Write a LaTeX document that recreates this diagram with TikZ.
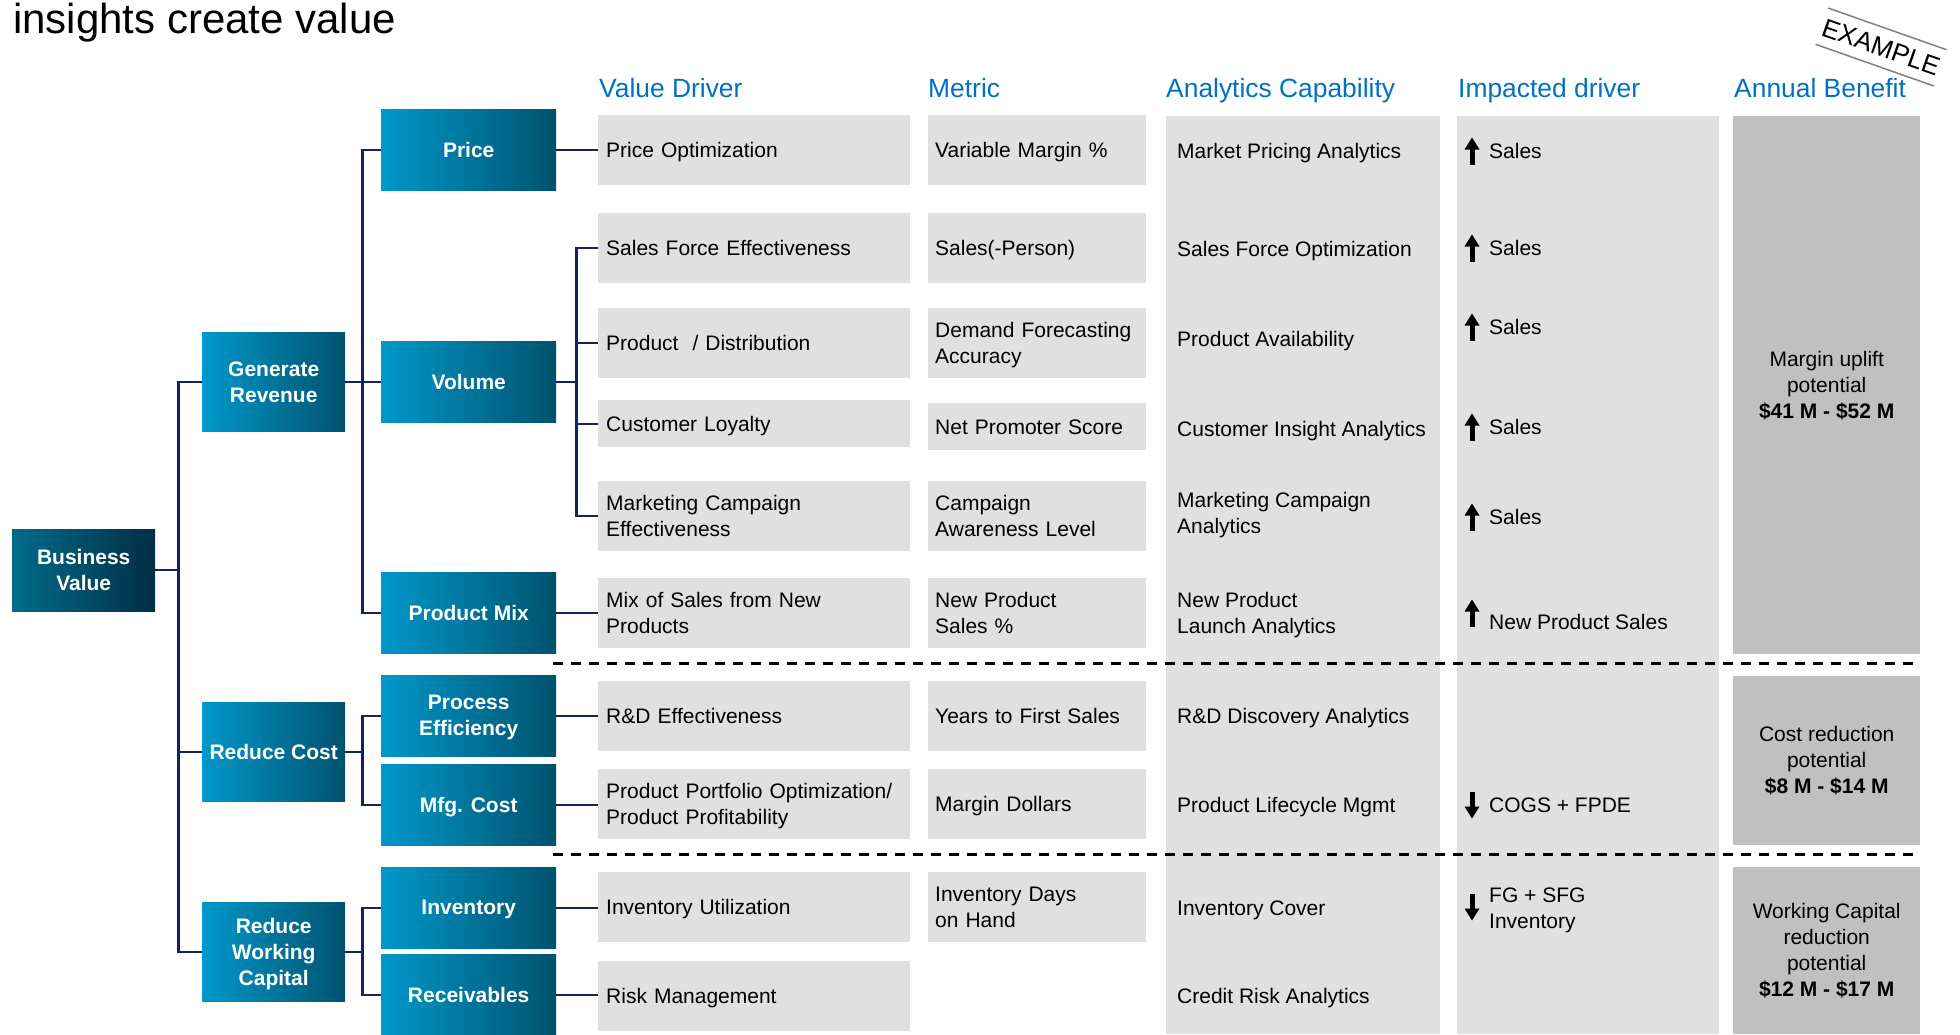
\documentclass[tikz,border=0pt]{standalone}
\usepackage{fontspec}
\setmainfont{Liberation Sans}
\usepackage{tikz}
\usepackage{xcolor}
\usetikzlibrary{arrows}

\definecolor{tealL}{RGB}{0,152,202}
\definecolor{tealD}{RGB}{0,82,110}
\definecolor{rootL}{RGB}{0,108,138}
\definecolor{rootD}{RGB}{0,46,68}
\definecolor{navy}{RGB}{16,36,100}
\definecolor{headblue}{RGB}{0,112,192}
\definecolor{cellgray}{RGB}{224,224,224}
\definecolor{bengray}{RGB}{192,192,192}

\tikzset{
  treebox/.style={anchor=north west, left color=tealL, right color=tealD, text=white,
    font=\fontsize{21}{26}\selectfont\bfseries, align=center, text depth=0pt,
    minimum width=175pt, minimum height=81pt, inner sep=0pt},
  rootbox/.style={treebox, left color=rootL, right color=rootD, minimum width=143pt, minimum height=82pt},
  goalbox/.style={treebox, minimum width=143pt, minimum height=99pt},
  drvbox/.style={anchor=north west, fill=cellgray, text width=296pt, inner xsep=8pt,
    inner ysep=0pt, minimum height=70pt, align=left, text depth=0pt},
  drvtwo/.style={drvbox, text depth=26pt},
  metbox/.style={drvbox, text width=204pt, inner xsep=7pt},
  mettwo/.style={metbox, text depth=26pt},
  benbox/.style={anchor=north west, fill=bengray, minimum width=187pt, align=center, inner sep=0pt},
  colhead/.style={anchor=base west, text=headblue, font=\fontsize{26.4}{30}\selectfont, inner sep=0pt},
  celltxt/.style={anchor=west, align=left, inner sep=0pt, text depth=0pt},
  link/.style={draw=navy, line width=2.2pt},
  sepline/.style={line width=3pt, dash pattern=on 10pt off 8pt},
  stampline/.style={draw=gray, line width=1.5pt},
  uparr/.pic={\fill (-7.5,-1.5) -- (0,-13.5) -- (7.5,-1.5) -- cycle;
              \fill (-2.5,-2) rectangle (2.5,13.5);},
  downarr/.pic={\fill (-7.5,1.5) -- (0,13.5) -- (7.5,1.5) -- cycle;
                \fill (-2.5,2) rectangle (2.5,-13.5);}
}

\begin{document}
\begin{tikzpicture}[x=1pt, y=-1pt, font=\fontsize{21}{26}\selectfont]
\useasboundingbox (0,0) rectangle (1960,1034);

% title and stamp
\node (title) [anchor=base west, inner sep=0pt, font=\fontsize{42}{48}\selectfont] at (13,33) {insights create value};
\node (stamp) [rotate=-19.4, minimum width=125pt, minimum height=38pt, inner sep=0pt,
  font=\fontsize{26}{30}\selectfont] at (1881,47) {EXAMPLE};
\draw[stampline] (stamp.north west) -- (stamp.north east);
\draw[stampline] (stamp.south west) -- (stamp.south east);

% column headers
\node (hdrv) [colhead] at (599,97) {Value Driver};
\node (hmet) [colhead] at (928,97) {Metric};
\node (hana) [colhead] at (1166,97) {Analytics Capability};
\node (himp) [colhead] at (1458,97) {Impacted driver};
\node (hben) [colhead] at (1734,97) {Annual Benefit};

% tall columns
\fill[cellgray] (1166,116) rectangle (1440,1034);
\fill[cellgray] (1457,116) rectangle (1719,1034);

% tree
\node (bv) [rootbox] at (12,529) {Business\\Value};

\node (gr) [goalbox] at (202,332) {Generate\\Revenue};
\node (rc) [goalbox] at (202,702) {Reduce Cost};
\node (rwc) [goalbox] at (202,902) {Reduce\\Working\\Capital};

\node (price) [treebox] at (381,109) {Price};
\node (vol) [treebox] at (381,341) {Volume};
\node (pmix) [treebox] at (381,572) {Product Mix};
\node (proc) [treebox] at (381,675) {Process\\Efficiency};
\node (mfg) [treebox] at (381,764) {Mfg. Cost};
\node (inv) [treebox] at (381,867) {Inventory};
\node (recv) [treebox] at (381,954) {Receivables};

% value drivers
\node (vd1) [drvbox] at (598,115) {Price Optimization};
\node (vd2) [drvbox] at (598,213) {Sales Force Effectiveness};
\node (vd3) [drvbox] at (598,308) {Product~~/ Distribution};
\node (vd4) [drvbox, minimum height=47pt] at (598,400) {Customer Loyalty};
\node (vd5) [drvtwo] at (598,481) {Marketing Campaign\\Effectiveness};
\node (vd6) [drvtwo] at (598,578) {Mix of Sales from New\\Products};
\node (vd7) [drvbox] at (598,681) {R\&D Effectiveness};
\node (vd8) [drvtwo] at (598,769) {Product Portfolio Optimization/\\Product Profitability};
\node (vd9) [drvbox] at (598,872) {Inventory Utilization};
\node (vd10) [drvbox] at (598,961) {Risk Management};

% metrics
\node (mt1) [metbox] at (928,115) {Variable Margin \%};
\node (mt2) [metbox] at (928,213) {Sales(-Person)};
\node (mt3) [mettwo] at (928,308) {Demand Forecasting\\Accuracy};
\node (mt4) [metbox, minimum height=47pt] at (928,403) {Net Promoter Score};
\node (mt5) [mettwo] at (928,481) {Campaign\\Awareness Level};
\node (mt6) [mettwo] at (928,578) {New Product\\Sales \%};
\node (mt7) [metbox] at (928,681) {Years to First Sales};
\node (mt8) [metbox] at (928,769) {Margin Dollars};
\node (mt9) [mettwo] at (928,872) {Inventory Days\\on Hand};

% analytics capability
\node (an1) [celltxt] at (1177,151) {Market Pricing Analytics};
\node (an2) [celltxt] at (1177,249) {Sales Force Optimization};
\node (an3) [celltxt] at (1177,339) {Product Availability};
\node (an4) [celltxt] at (1177,429) {Customer Insight Analytics};
\node (an5) [celltxt] at (1177,513) {Marketing Campaign\\Analytics};
\node (an6) [celltxt] at (1177,613) {New Product\\Launch Analytics};
\node (an7) [celltxt] at (1177,716) {R\&D Discovery Analytics};
\node (an8) [celltxt] at (1177,805) {Product Lifecycle Mgmt};
\node (an9) [celltxt] at (1177,908) {Inventory Cover};
\node (an10) [celltxt] at (1177,996) {Credit Risk Analytics};

% impacted driver
\pic at (1472,151) {uparr};
\node (im1) [celltxt] at (1489,151) {Sales};
\pic at (1472,248) {uparr};
\node (im2) [celltxt] at (1489,248) {Sales};
\pic at (1472,327) {uparr};
\node (im3) [celltxt] at (1489,327) {Sales};
\pic at (1472,427) {uparr};
\node (im4) [celltxt] at (1489,427) {Sales};
\pic at (1472,517) {uparr};
\node (im5) [celltxt] at (1489,517) {Sales};
\pic at (1472,613) {uparr};
\node (im6) [celltxt] at (1489,622) {New Product Sales};
\pic at (1472,805) {downarr};
\node (im7) [celltxt] at (1489,805) {COGS + FPDE};
\pic at (1472,907) {downarr};
\node (im8) [celltxt] at (1489,908) {FG + SFG\\Inventory};

% annual benefit
\node (ben1) [benbox, minimum height=538pt] at (1733,116) {Margin uplift\\potential\\\textbf{\$41 M - \$52 M}};
\node (ben2) [benbox, minimum height=169pt] at (1733,676) {Cost reduction\\potential\\\textbf{\$8 M - \$14 M}};
\node (ben3) [benbox, minimum height=167pt] at (1733,867) {Working Capital\\reduction\\potential\\\textbf{\$12 M - \$17 M}};

% separators
\draw[sepline] (553,663) -- (1918,663);
\draw[sepline] (553,854) -- (1918,854);

% connectors
\draw[link] (bv.east) -- ++(23,0) |- (gr.west);
\draw[link] (bv.east) -- ++(23,0) |- (rc.west);
\draw[link] (bv.east) -- ++(23,0) |- (rwc.west);

\draw[link] (gr.east) -- ++(17,0) |- (price.west);
\draw[link] (gr.east) -- (vol.west);
\draw[link] (gr.east) -- ++(17,0) |- (pmix.west);
\draw[link] (rc.east) -- ++(17,0) |- (proc.west);
\draw[link] (rc.east) -- ++(17,0) |- (mfg.west);
\draw[link] (rwc.east) -- ++(17,0) |- (inv.west);
\draw[link] (rwc.east) -- ++(17,0) |- (recv.west);

\draw[link] (price.east) -- (price.east -| vd1.west);
\draw[link] (vol.east) -- ++(20,0) |- (vd2.west);
\draw[link] (vol.east) -- ++(20,0) |- (vd3.west);
\draw[link] (vol.east) -- ++(20,0) |- (vd4.west);
\draw[link] (vol.east) -- ++(20,0) |- (vd5.west);
\draw[link] (pmix.east) -- (pmix.east -| vd6.west);
\draw[link] (proc.east) -- (proc.east -| vd7.west);
\draw[link] (mfg.east) -- (mfg.east -| vd8.west);
\draw[link] (inv.east) -- (inv.east -| vd9.west);
\draw[link] (recv.east) -- (recv.east -| vd10.west);

\end{tikzpicture}
\end{document}
